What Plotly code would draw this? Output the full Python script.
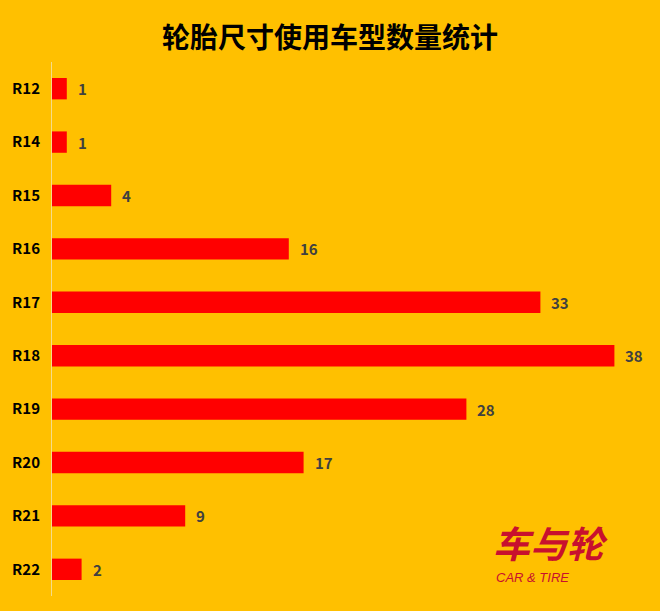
import plotly.graph_objects as go

categories = ["R12", "R14", "R15", "R16", "R17", "R18", "R19", "R20", "R21", "R22"]
values = [1, 1, 4, 16, 33, 38, 28, 17, 9, 2]
title_text = "轮胎尺寸使用车型数量统计"

W, H = 660, 611
ML, MR, MT, MB = 48, 16, 62, 15
plot_w = W - ML - MR
plot_h = H - MT - MB


def px_to_paper(px, py):
    return (px - ML) / plot_w, (H - py - MB) / plot_h


fig = go.Figure(go.Bar(
    x=values,
    y=categories,
    orientation="h",
    marker=dict(color="#FF0000", line=dict(width=0)),
    width=0.4,
    hoverinfo="skip",
))

for c, v in zip(categories, values):
    fig.add_annotation(
        x=v, y=c, xref="x", yref="y",
        text="<b>" + str(v) + "</b>",
        showarrow=False, xanchor="left", yanchor="middle", xshift=9,
        font=dict(family="Noto Sans CJK SC, Noto Sans, sans-serif", size=15, color="#404040"),
    )

fig.update_layout(
    width=W, height=H,
    paper_bgcolor="#FFC000",
    plot_bgcolor="#FFC000",
    margin=dict(l=ML, r=MR, t=MT, b=MB),
    title=dict(
        text="<b>" + title_text + "</b>",
        x=0.5, xanchor="center",
        y=1 - 38 / H, yanchor="middle",
        font=dict(family="Noto Sans CJK SC, sans-serif", size=28, color="#000000"),
    ),
    showlegend=False,
)

fig.update_xaxes(range=[0, 40], visible=False, fixedrange=True)
fig.update_yaxes(
    categoryorder="array",
    categoryarray=categories[::-1],
    showgrid=False,
    showline=True,
    linecolor="#F5DC8A",
    linewidth=1,
    ticks="",
    ticklabelstandoff=8,
    tickfont=dict(family="Noto Sans CJK SC, Noto Sans, sans-serif", size=15, color="#000000"),
    tickprefix="<b>", ticksuffix="</b>",
    fixedrange=True,
)

lx, ly = px_to_paper(550, 542)
fig.add_annotation(
    x=lx, y=ly, xref="paper", yref="paper",
    text="<b><i>车与轮</i></b>",
    showarrow=False, xanchor="center", yanchor="middle",
    font=dict(family="Noto Sans CJK SC, sans-serif", size=37, color="#C8102E"),
)
cx, cy = px_to_paper(493, 577)
fig.add_annotation(
    x=cx, y=cy, xref="paper", yref="paper",
    text="<i>CAR &amp; TIRE</i>",
    showarrow=False, xanchor="left", yanchor="middle",
    font=dict(family="Liberation Sans, sans-serif", size=13, color="#C8102E"),
)

fig.write_html(
    "out.html",
    config={"displayModeBar": False},
    post_script="document.body.style.margin='0';document.body.style.background='#FFC000';",
)
